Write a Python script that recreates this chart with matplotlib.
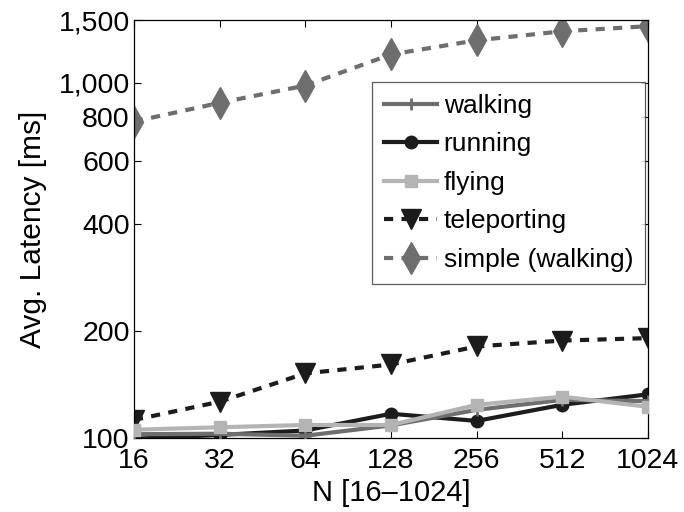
import matplotlib
matplotlib.use("Agg")
import matplotlib.pyplot as plt
from matplotlib.ticker import FixedLocator, FixedFormatter, NullLocator

plt.rcParams['font.family'] = ['Liberation Sans', 'DejaVu Sans']

N = [16, 32, 64, 128, 256, 512, 1024]
walking = [102.5, 102.8, 101.5, 108.5, 120, 128, 127]
running = [99.5, 102, 105, 117, 111.7, 124, 132.7]
flying = [105.5, 107.2, 108.8, 108.8, 124, 130.7, 122.4]
teleporting = [112.4, 126.5, 152, 161, 181, 188, 191]
simple_walking = [777, 877, 981, 1200, 1315, 1394, 1441]

yticks = [100, 200, 400, 600, 800, 1000, 1500]
yticklabels = ["100", "200", "400", "600", "800", "1,000", "1,500"]
xticklabels = ["16", "32", "64", "128", "256", "512", "1024"]

fig = plt.figure(figsize=(6.84, 5.12), dpi=100)
ax = fig.add_axes([134/684, 1-438/512, (648-134)/684, (438-20)/512])

lw = 3.0
ax.plot(N, walking, color='#6e6e6e', lw=lw, marker='+', ms=8, mew=2, label='walking', zorder=3)
ax.plot(N, running, color='#1c1c1c', lw=lw, marker='o', ms=9, label='running', zorder=2)
ax.plot(N, flying, color='#b4b4b4', lw=lw, marker='s', ms=9, label='flying', zorder=4)
ax.plot(N, teleporting, color='#1c1c1c', lw=lw, ls='--', dashes=(2.2, 2.0), marker='v', ms=14, label='teleporting')
ax.plot(N, simple_walking, color='#6e6e6e', lw=lw, ls='--', dashes=(2.2, 2.0), marker='d', ms=16, label='simple (walking)')

ax.set_xscale('log', base=2)
ax.set_yscale('log')
ax.set_xlim(16, 1024)
ax.set_ylim(100, 1500)
ax.xaxis.set_major_locator(FixedLocator(N))
ax.xaxis.set_major_formatter(FixedFormatter(xticklabels))
ax.xaxis.set_minor_locator(NullLocator())
ax.yaxis.set_major_locator(FixedLocator(yticks))
ax.yaxis.set_major_formatter(FixedFormatter(yticklabels))
ax.yaxis.set_minor_locator(NullLocator())

ax.tick_params(which='both', direction='in', top=True, right=True, length=5, width=0.8,
               labelsize=20.5)
ax.tick_params(axis='x', pad=7)
ax.tick_params(axis='y', pad=3)
for s in ax.spines.values():
    s.set_linewidth(0.9)

ax.set_xlabel('N [16\u20131024]', fontsize=21, labelpad=4)
ax.set_ylabel('Avg. Latency [ms]', fontsize=21.5, labelpad=8)

leg = ax.legend(loc='upper right', bbox_to_anchor=(645/684, 1-82/512), bbox_transform=fig.transFigure,
                fontsize=19, frameon=True, fancybox=False, edgecolor='#333333',
                handlelength=2.0, handletextpad=0.25, labelspacing=0.55, borderpad=0.45,
                borderaxespad=0)
leg.get_frame().set_linewidth(0.9)

fig.savefig('out.png', dpi=100)
